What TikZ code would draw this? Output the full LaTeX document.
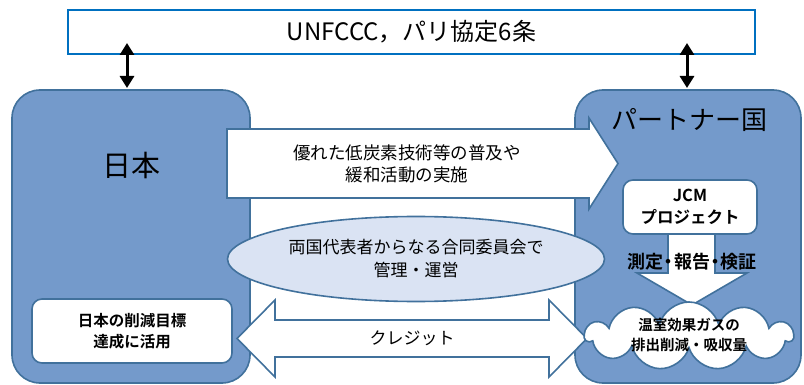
\documentclass[tikz,border=0pt]{standalone}
\usepackage{fontspec}
\setmainfont{Noto Sans CJK JP}[BoldFont={Noto Sans CJK JP Bold}]
\usetikzlibrary{arrows.meta,shapes.geometric,shapes.symbols,positioning}

\definecolor{countryfill}{RGB}{116,154,203}
\definecolor{countryline}{RGB}{65,113,156}
\definecolor{frameblue}{RGB}{0,112,192}
\definecolor{committee}{RGB}{218,227,243}
\newcommand{\fsz}[2]{\fontsize{#1}{#2}\selectfont}
\newcommand{\narrowdot}{\kern-.2em・\kern-.2em}

\begin{document}
\begin{tikzpicture}[x=1pt, y=-1pt,
  country/.style={draw=countryline, fill=countryfill, line width=1.6pt, rounded corners=28pt, inner sep=0pt},
  blockarrow/.style={draw=countryline, fill=white, line width=1.6pt, line join=miter},
  whitebox/.style={draw=countryline, fill=white, line width=1.6pt, rounded corners=10pt, inner sep=0pt, align=center},
  link/.style={line width=3pt, {Triangle[width=14pt,length=12pt]}-{Triangle[width=14pt,length=12pt]}},
  body/.style={align=center, inner sep=0pt}]
\useasboundingbox (0,0) rectangle (804,385);
\node[draw=frameblue, line width=2.2pt, minimum width=687pt, minimum height=44pt, inner sep=0pt, font=\fsz{24}{28}] (unf) at (411.5,32) {UNFCCC，パリ協定6条};
\coordinate (jpup) at (127,43);
\coordinate (jpdown) at (127,88);
\coordinate (ptup) at (687,43);
\coordinate (ptdown) at (687,88);
\draw[link] (jpup) -- (jpdown);
\draw[link] (ptup) -- (ptdown);
\node[country, minimum width=238pt, minimum height=293pt] (japan) at (131,236.5) {};
\node[country, minimum width=226pt, minimum height=293pt] (partner) at (688,236.5) {};
\node[font=\fsz{29}{34}] (jplabel) at (131,165) {日本};
\node[font=\fsz{26}{30}] (ptlabel) at (689,120) {パートナー国};
\draw[blockarrow] (227,129) -- (589,129) -- (589,118) -- (618,163.5) -- (589,209) -- (589,198) -- (227,198) -- cycle;
\node[body, font=\fsz{17.5}{22}] (tech) at (407,164) {優れた低炭素技術等の普及や\\緩和活動の実施};
\node[ellipse, draw=countryline, fill=committee, line width=1.6pt, minimum width=377pt, minimum height=85pt, inner sep=0pt, align=center, font=\fsz{17}{23}] (jc) at (416,259) {両国代表者からなる合同委員会で\\管理・運営};
\draw[blockarrow] (237,338.5) -- (275,300) -- (275,320) -- (549,320) -- (549,300) -- (587,338.5) -- (549,377) -- (549,357) -- (275,357) -- (275,377) -- cycle;
\node[font=\fsz{17}{20}] (credit) at (412,338.5) {クレジット};
\node[whitebox, minimum width=200pt, minimum height=64pt, font=\bfseries\fsz{15.5}{21}] (goal) at (132,331) {日本の削減目標\\達成に活用};
\draw[blockarrow] (668,232) -- (715,232) -- (715,273) -- (747,273) -- (692,305) -- (637,273) -- (668,273) -- cycle;
\node[whitebox, minimum width=134pt, minimum height=54pt, font=\bfseries\fsz{16.5}{22}] (jcm) at (690,207) {JCM\\プロジェクト};
\node[cloud, cloud puffs=11, aspect=3.2, draw=countryline, fill=white, line width=1.6pt, minimum width=208pt, minimum height=68pt, inner sep=0pt] (ghg) at (689,336) {};
\node[body, font=\bfseries\fsz{14.5}{20}] (ghgtext) at (689,335) {温室効果ガスの\\排出削減・吸収量};
\node[font=\bfseries\fsz{18}{22}] (mrv) at (692,262) {測定\narrowdot 報告\narrowdot 検証};
\end{tikzpicture}
\end{document}
